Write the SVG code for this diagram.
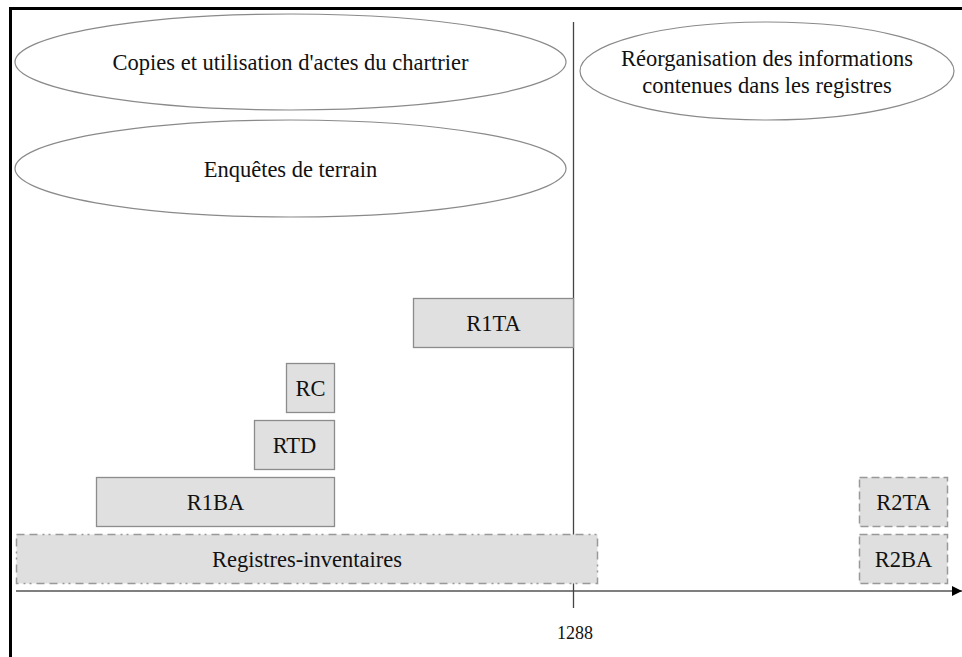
<svg xmlns="http://www.w3.org/2000/svg" width="962" height="657" viewBox="0 0 962 657">
<style>
.t{font-family:"Liberation Serif","Times New Roman",serif;font-size:22.5px;fill:#111;text-anchor:middle}
.ell{fill:#fff;stroke:#8a8a8a;stroke-width:1.2}
.box{fill:#e0e0e0;stroke:#8c8c8c;stroke-width:1.3}
.dbox{fill:#dfdfdf;stroke:#999;stroke-width:1.5;stroke-dasharray:8 5 8 5 2 4 2 5}
.dbox2{fill:#dfdfdf;stroke:#999;stroke-width:1.5;stroke-dasharray:8 4}
</style>
<defs>
<marker id="arr" viewBox="0 0 10 10" refX="10" refY="5" markerWidth="10" markerHeight="10" markerUnits="userSpaceOnUse" orient="auto">
<path d="M0,0 L10,5 L0,10 Z" fill="#000"/>
</marker>
</defs>
<rect width="962" height="657" fill="#fff"/>
<path d="M10.5,657 V8.5 H962" fill="none" stroke="#000" stroke-width="3"/>
<g id="connectors">
<line x1="16" y1="591" x2="962" y2="591" stroke="#555" stroke-width="1.6" marker-end="url(#arr)"/>
<line x1="573.5" y1="22" x2="573.5" y2="608" stroke="#444" stroke-width="1.3"/>
</g>
<g id="copies">
<ellipse class="ell" cx="290.5" cy="62" rx="275.5" ry="48"/>
<text class="t" x="290.5" y="70">Copies et utilisation d'actes du chartrier</text>
</g>
<g id="enquetes">
<ellipse class="ell" cx="290.5" cy="168.5" rx="275.5" ry="48.5"/>
<text class="t" x="290.5" y="176.5">Enquêtes de terrain</text>
</g>
<g id="reorganisation">
<ellipse class="ell" cx="767" cy="71" rx="187" ry="49"/>
<text class="t" x="767" y="66">Réorganisation des informations</text>
<text class="t" x="767" y="93">contenues dans les registres</text>
</g>
<g id="r1ta">
<rect class="box" x="413.5" y="298.5" width="160" height="49"/>
<text class="t" x="493.5" y="331">R1TA</text>
</g>
<g id="rc">
<rect class="box" x="286.5" y="363.5" width="48" height="49"/>
<text class="t" x="310.5" y="396">RC</text>
</g>
<g id="rtd">
<rect class="box" x="254.5" y="420.5" width="80" height="49"/>
<text class="t" x="294.5" y="453">RTD</text>
</g>
<g id="r1ba">
<rect class="box" x="96.5" y="477.5" width="238" height="49"/>
<text class="t" x="215.5" y="510">R1BA</text>
</g>
<g id="registres">
<rect class="dbox" x="16.5" y="534.5" width="581" height="49"/>
<text class="t" x="307" y="567">Registres-inventaires</text>
</g>
<g id="r2ta">
<rect class="dbox2" x="859.5" y="477.5" width="88" height="49"/>
<text class="t" x="903.5" y="510">R2TA</text>
</g>
<g id="r2ba">
<rect class="dbox2" x="859.5" y="534.5" width="88" height="49"/>
<text class="t" x="903.5" y="567">R2BA</text>
</g>
<g id="label1288">
<text class="t" x="575" y="639" style="font-size:18px">1288</text>
</g>
</svg>
